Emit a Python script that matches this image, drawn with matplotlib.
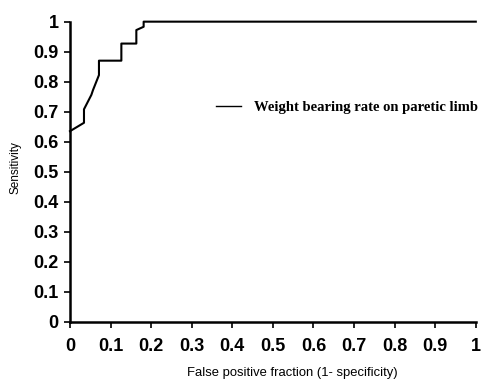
import matplotlib
matplotlib.use("Agg")
import matplotlib.pyplot as plt

fpf = [0.0, 0.0345, 0.0345, 0.0527, 0.0567, 0.0714, 0.0714, 0.1266, 0.1266, 0.1635, 0.1635, 0.1815, 0.1815, 1.0]
sens = [0.635, 0.663, 0.708, 0.756, 0.772, 0.822, 0.870, 0.870, 0.927, 0.927, 0.972, 0.983, 1.0, 1.0]
ticks = [0, 0.1, 0.2, 0.3, 0.4, 0.5, 0.6, 0.7, 0.8, 0.9, 1]
tick_labels = ["0", "0.1", "0.2", "0.3", "0.4", "0.5", "0.6", "0.7", "0.8", "0.9", "1"]
series_name = "Weight bearing rate on paretic limb"

fig = plt.figure(figsize=(4.86, 3.80), dpi=100)
ax = fig.add_axes([0.144, 0.1534, 0.835, 0.7896])
ax.plot(fpf, sens, color="black", lw=1.5, label=series_name, clip_on=False)
ax.set_xlim(0, 1)
ax.set_ylim(0, 1)
for s in ["top", "right"]:
    ax.spines[s].set_visible(False)
for s in ["left", "bottom"]:
    ax.spines[s].set_linewidth(1.8)
ax.set_xticks(ticks)
ax.set_xticklabels(tick_labels)
ax.set_yticks(ticks)
ax.set_yticklabels(tick_labels)
ax.tick_params(axis="x", direction="out", length=4, width=1.2, pad=8)
ax.tick_params(axis="y", direction="out", length=4, width=1.2, pad=4)
for lab in ax.get_xticklabels() + ax.get_yticklabels():
    lab.set_fontfamily("Liberation Sans")
    lab.set_fontweight("bold")
    lab.set_fontsize(13)
ax.set_ylabel("Sensitivity", fontfamily="Liberation Sans", fontsize=8.5, va="center")
ax.yaxis.set_label_coords(-0.135, 0.514)
ax.set_xlabel("False positive fraction (1- specificity)", fontfamily="Liberation Sans", fontsize=9.4, va="center")
ax.xaxis.set_label_coords(0.547, -0.172)
leg = ax.legend(loc="center left", bbox_to_anchor=(0.361, 0.715), frameon=False,
                handlelength=1.7, handletextpad=0.85, borderaxespad=0, borderpad=0,
                prop={"family": "Liberation Serif", "weight": "bold", "size": 10.5})
for h in leg.get_lines():
    h.set_linewidth(1.0)
fig.savefig("out.png", dpi=100)
